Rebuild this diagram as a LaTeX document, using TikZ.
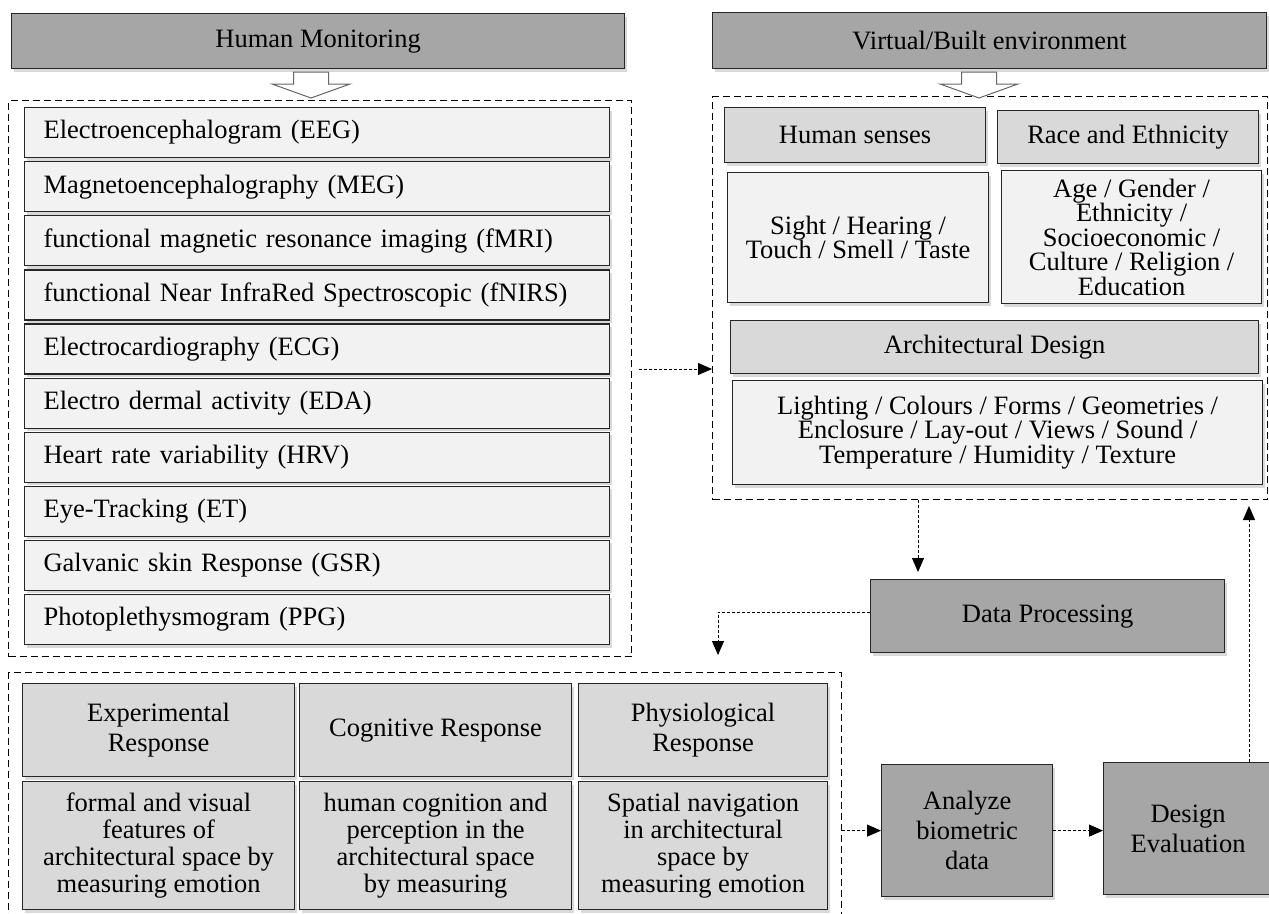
\documentclass[tikz,border=0pt]{standalone}
\usepackage{fontspec}
\setmainfont{Liberation Serif}
\usetikzlibrary{arrows.meta, shadows, positioning}
\definecolor{headgray}{HTML}{A6A6A6}
\definecolor{groupgray}{HTML}{D9D9D9}
\definecolor{itemgray}{HTML}{F2F2F2}
\definecolor{edgegray}{HTML}{262626}

\begin{document}
\begin{tikzpicture}
	[%
	x=1pt, y=-1pt,
	every node/.style={font=\fontsize{26.5}{26.5}\selectfont, inner sep=0pt},%
	box/.style    ={draw=edgegray,	line width=1.2pt,	anchor=north west,	align=center,	drop shadow={shadow xshift=2pt, shadow yshift=-3pt, opacity=0.3}},%
	header/.style ={box,	fill=headgray},%
	group/.style  ={box,	fill=groupgray},%
	item/.style   ={box,	fill=itemgray,	font=\fontsize{26.5}{24.5}\selectfont},%
	listitem/.style={box,	fill=itemgray,	minimum width=585,	minimum height=50,	text width=547,	inner xsep=19,	align=left},%
	frame/.style  ={draw=black,	dash pattern=on 7pt off 4pt,	line width=1pt,	anchor=north west},%
	hollow/.style ={draw=black!60,	fill=white,	line width=1pt},%
	flow/.style   ={dash pattern=on 3pt off 2pt,	line width=0.9pt,	-{Triangle[length=14pt, width=12pt]}},%
	]

	\useasboundingbox (0,0) rectangle (1269,913);

	% frames
	\node[frame, minimum width=623, minimum height=556] (monframe) at (8,100) {};
	\node[frame, minimum width=555, minimum height=403] (envframe) at (712,96) {};
	\node[frame, minimum width=833, minimum height=260] (respframe) at (8,672) {};

	% top headers
	\node[header, minimum width=613, minimum height=55] (monitor) at (11,13) {Human Monitoring};
	\node[header, minimum width=554, minimum height=56] (environ) at (712,12) {Virtual/Built environment};

	\foreach \cx in {311,979}%
		\draw[hollow] (\cx-17.5,72) -- (\cx+17.5,72) -- (\cx+17.5,84) -- (\cx+39,84) -- (\cx,98) -- (\cx-39,84) -- (\cx-17.5,84) -- cycle;

	% monitoring methods
	\foreach \txt [count=\i from 0] in {Electroencephalogram (EEG), Magnetoencephalography (MEG), functional magnetic resonance imaging (fMRI), functional Near InfraRed Spectroscopic (fNIRS), Electrocardiography (ECG), Electro dermal activity (EDA), Heart rate variability (HRV), Eye-Tracking (ET), Galvanic skin Response (GSR), Photoplethysmogram (PPG)}%
		\node[listitem] (item\i) at (24,107+54.1*\i) {\txt};

	% environment
	\node[group, minimum width=261, minimum height=55] (senses) at (724,107) {Human senses};
	\node[group, minimum width=261, minimum height=53] (race) at (997,110) {Race and Ethnicity};
	\node[item, minimum width=261, minimum height=130] (sight) at (727,172) {Sight / Hearing /\\Touch / Smell / Taste};
	\node[item, minimum width=260, minimum height=133] (ethnic) at (1001,170) {Age / Gender /\\Ethnicity /\\Socioeconomic /\\Culture / Religion /\\Education};
	\node[group, minimum width=528, minimum height=53] (archdesign) at (730,320) {Architectural Design};
	\node[item, minimum width=530, minimum height=104] (archfactors) at (732,380) {Lighting / Colours / Forms / Geometries /\\Enclosure / Lay-out / Views / Sound /\\Temperature / Humidity / Texture};

	% processing
	\node[header, minimum width=354, minimum height=73] (dataproc) at (870,579) {Data Processing};

	% responses
	\node[group, minimum width=272, minimum height=93, font=\fontsize{26.5}{30}\selectfont] (expresp) at (22,683) {Experimental\\Response};
	\node[group, minimum width=272, minimum height=93] (cogresp) at (299,683) {Cognitive Response};
	\node[group, minimum width=249, minimum height=93, font=\fontsize{26.5}{30}\selectfont] (physresp) at (578,683) {Physiological\\Response};
	\node[group, minimum width=272, minimum height=128, font=\fontsize{26.5}{27}\selectfont] (expdesc) at (22,781) {formal and visual\\features of\\architectural space by\\measuring emotion};
	\node[group, minimum width=272, minimum height=128, font=\fontsize{26.5}{27}\selectfont] (cogdesc) at (299,781) {human cognition and\\perception in the\\architectural space\\by measuring};
	\node[group, minimum width=249, minimum height=128, font=\fontsize{26.5}{27}\selectfont] (physdesc) at (578,781) {Spatial navigation\\in architectural\\space by\\measuring emotion};

	\node[header, minimum width=171, minimum height=132, font=\fontsize{26.5}{30}\selectfont] (analyze) at (881,764) {Analyze\\biometric\\data};
	\node[header, minimum width=169, minimum height=132, font=\fontsize{26.5}{30}\selectfont] (design) at (1103,762) {Design\\Evaluation};

	% connections
	\coordinate (linkstart) at (639,369);
	\coordinate (dptip) at (918,572);
	\coordinate (resptip) at (718,655);
	\coordinate (envtip) at (1249,506);

	\draw[flow] (linkstart) -- (envframe.west |- linkstart);
	\draw[flow] (envframe.south -| dptip) -- (dptip);
	\draw[flow] ([yshift=4pt]dataproc.west) -| (resptip);
	\draw[flow] (respframe.east |- analyze.west) -- (analyze.west);
	\draw[flow] (analyze.east) -- (analyze.east -| design.west);
	\draw[flow] (design.north -| envtip) -- (envtip);

\end{tikzpicture}
\end{document}
